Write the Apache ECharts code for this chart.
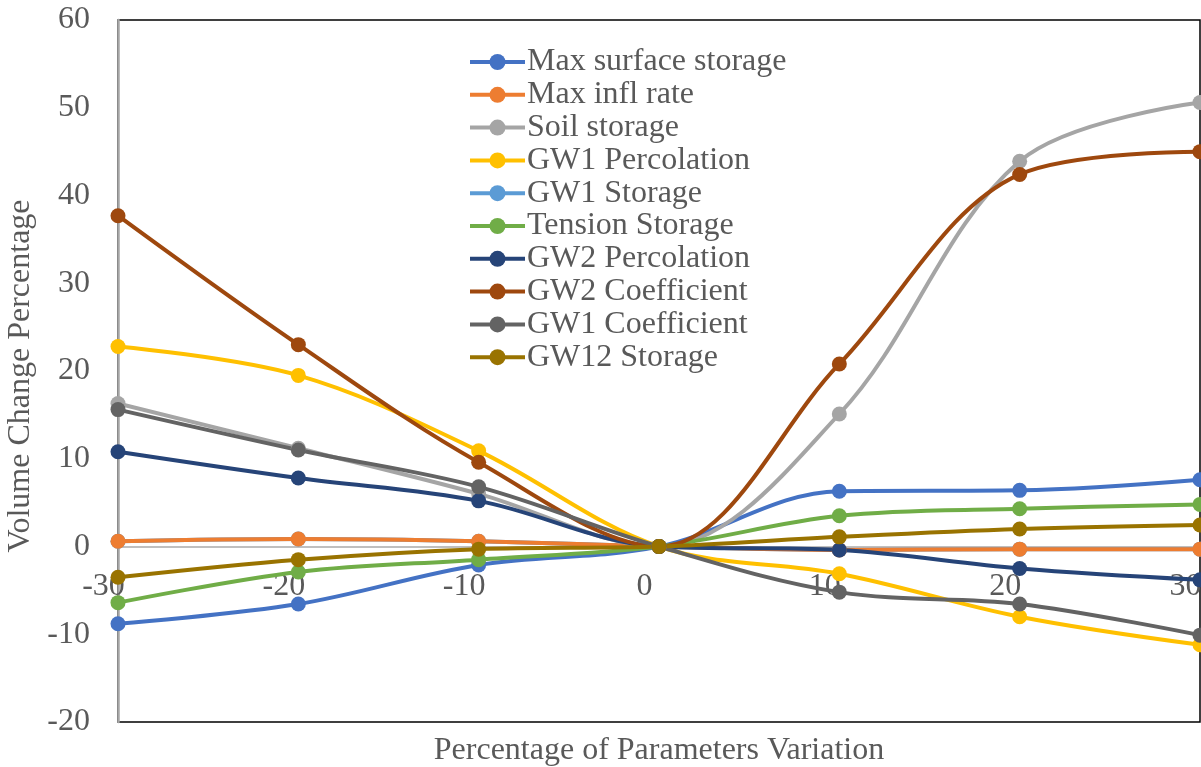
<html>
<head>
<meta charset="utf-8">
<script src="https://cdn.jsdelivr.net/npm/echarts@6/dist/echarts.min.js"></script>
</head>
<body style="margin:0">
<div id="main" style="width:1201px;height:767px;"></div>
<script type="text/javascript">
var xValues = [-30, -20, -10, 0, 10, 20, 30];

var seriesNames = ['Max surface storage', 'Max infl rate', 'Soil storage', 'GW1 Percolation',
    'GW1 Storage', 'Tension Storage', 'GW2 Percolation', 'GW2 Coefficient', 'GW1 Coefficient', 'GW12 Storage'];

var maxSurfaceStorage = [-8.8, -6.55, -2.1, 0, 6.3, 6.4, 7.6];
var maxInflRate       = [0.6, 0.85, 0.6, 0, -0.4, -0.3, -0.3];
var soilStorage       = [16.3, 11.2, 6.0, 0, 15.1, 43.9, 50.6];
var gw1Percolation    = [22.8, 19.5, 10.9, 0, -3.1, -8.0, -11.2];
var gw1Storage        = [0.6, 0.85, 0.6, 0, -0.4, -0.3, -0.3]; // hidden under Max infl rate
var tensionStorage    = [-6.4, -2.9, -1.5, 0, 3.5, 4.3, 4.8];
var gw2Percolation    = [10.8, 7.8, 5.2, 0, -0.4, -2.5, -3.8];
var gw2Coefficient    = [37.7, 23.0, 9.6, 0, 20.8, 42.4, 45.0];
var gw1Coefficient    = [15.6, 11.0, 6.8, 0, -5.2, -6.55, -10.1];
var gw12Storage       = [-3.5, -1.5, -0.3, 0, 1.1, 2.0, 2.45];

var allValues = [maxSurfaceStorage, maxInflRate, soilStorage, gw1Percolation, gw1Storage,
    tensionStorage, gw2Percolation, gw2Coefficient, gw1Coefficient, gw12Storage];

var colors = ['#4472C4', '#ED7D31', '#A5A5A5', '#FFC000', '#5B9BD5',
    '#70AD47', '#264478', '#9E480E', '#636363', '#997300'];

var font = '"Liberation Serif", "Times New Roman", serif';
var textColor = '#595959';

var myChart = echarts.init(document.getElementById('main'));

var series = seriesNames.map(function (name, i) {
    return {
        name: name,
        type: 'line',
        smooth: 0.35,
        symbol: 'circle',
        symbolSize: 15,
        z: name === 'GW1 Storage' ? 1 : 2,
        data: xValues.map(function (x, j) { return [x, allValues[i][j]]; }),
        lineStyle: { width: 4, color: colors[i] },
        itemStyle: { color: colors[i] }
    };
});

var option = {
    animation: false,
    backgroundColor: '#fff',
    color: colors,
    textStyle: { fontFamily: font },
    grid: {
        left: 118, right: 1, top: 20, bottom: 45,
        outerBoundsMode: 'none',
        containLabel: false,
        show: true, borderColor: '#000', borderWidth: 1.5
    },
    legend: {
        orient: 'vertical',
        left: 468,
        top: 46,
        padding: 0,
        itemWidth: 55,
        itemHeight: 20,
        itemGap: 0.8,
        lineStyle: { width: 4 },
        textStyle: { fontFamily: font, fontSize: 32, color: textColor, padding: [0, 0, 0, -3] },
        data: seriesNames
    },
    xAxis: {
        type: 'value',
        min: -30, max: 30, interval: 10,
        name: 'Percentage of Parameters Variation',
        nameLocation: 'middle',
        nameGap: 13,
        nameTextStyle: { fontFamily: font, fontSize: 32, color: textColor },
        axisLine: { onZero: true, lineStyle: { color: '#bfbfbf', width: 2 } },
        axisTick: { show: false },
        splitLine: { show: false },
        axisLabel: {
            fontFamily: font, fontSize: 32, color: textColor,
            margin: -151, padding: [0, 29, 0, 0]
        }
    },
    yAxis: {
        type: 'value',
        min: -20, max: 60, interval: 10,
        name: 'Volume Change Percentage',
        nameLocation: 'middle',
        nameGap: 70,
        nameTextStyle: { fontFamily: font, fontSize: 32, color: textColor, padding: [0, 10, 0, 0] },
        axisLine: { show: true, onZero: false, lineStyle: { color: '#a6a6a6', width: 2.5 } },
        axisTick: { show: false },
        splitLine: { show: false },
        axisLabel: { fontFamily: font, fontSize: 32, color: textColor, margin: 28 }
    },
    series: series
};

myChart.setOption(option);
</script>
</body>
</html>
